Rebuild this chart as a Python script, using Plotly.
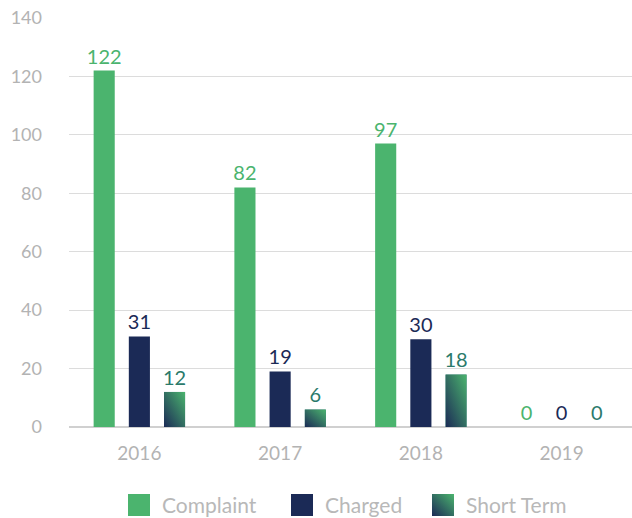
import base64
import plotly.graph_objects as go

years = ["2016", "2017", "2018", "2019"]
complaint = [122, 82, 97, 0]
charged = [31, 19, 30, 0]
short_term = [12, 6, 18, 0]
series_names = ["Complaint", "Charged", "Short Term"]

GREEN = "#4bb46e"
NAVY = "#1b2a56"
TEAL = "#2b7a6b"
FONT = "Lato"

W, H = 632, 518
ML, MR, MT, MB = 69, 0, 18, 91
PW, PH = W - ML - MR, H - MT - MB

x = list(range(len(years)))
bargap = 0.25
bargroupgap = 0.4
n_series = 3

fig = go.Figure()
for name, vals, col, tcol in [(series_names[0], complaint, GREEN, GREEN),
                              (series_names[1], charged, NAVY, NAVY),
                              (series_names[2], short_term, TEAL, TEAL)]:
    fig.add_trace(go.Bar(
        x=x, y=vals, name=name, marker=dict(color=col, line=dict(width=0)),
        text=[str(v) for v in vals], textposition="outside", constraintext="none",
        textfont=dict(color=tcol, size=20, family=FONT),
        cliponaxis=False, showlegend=False,
    ))

# gradient image for Short Term bars
svg = ("<svg xmlns='http://www.w3.org/2000/svg' width='20' height='20' viewBox='0 0 20 20' "
       "preserveAspectRatio='none'><defs><linearGradient id='g' x1='0' y1='1' x2='1' y2='0'>"
       f"<stop offset='0' stop-color='{NAVY}'/><stop offset='1' stop-color='{GREEN}'/>"
       "</linearGradient></defs><rect width='20' height='20' fill='url(#g)'/></svg>")
uri = "data:image/svg+xml;base64," + base64.b64encode(svg.encode()).decode()
slot = (1 - bargap) / n_series
barw = slot * (1 - bargroupgap)
images = []
for i, v in enumerate(short_term):
    if v > 0:
        images.append(dict(source=uri, xref="x", yref="y", x=i + slot - barw / 2, y=v,
                           sizex=barw, sizey=v, xanchor="left", yanchor="top",
                           sizing="stretch", layer="above"))

# custom legend (square swatches + text) below the plot
def px_x(p):
    return (p - ML) / PW

def px_y(p):
    return (H - MB - p) / PH

sw = 22
leg_cy = 505
swatch_left = [128, 291, 432]
shapes = []
annotations = []
for k, name in enumerate(series_names):
    x0 = swatch_left[k]
    if k < 2:
        shapes.append(dict(type="rect", xref="paper", yref="paper",
                           x0=px_x(x0), x1=px_x(x0 + sw),
                           y0=px_y(leg_cy + sw / 2), y1=px_y(leg_cy - sw / 2),
                           fillcolor=[GREEN, NAVY][k], line=dict(width=0)))
    else:
        images.append(dict(source=uri, xref="paper", yref="paper",
                           x=px_x(x0), y=px_y(leg_cy - sw / 2),
                           sizex=sw / PW, sizey=sw / PH, xanchor="left", yanchor="top",
                           sizing="stretch", layer="above"))
    annotations.append(dict(text=name, xref="paper", yref="paper",
                            x=px_x(x0 + sw + 10), y=px_y(leg_cy),
                            xanchor="left", yanchor="middle", showarrow=False,
                            font=dict(size=21, color="#b8b8b8", family=FONT)))

fig.update_layout(
    width=W, height=H,
    margin=dict(l=ML, r=MR, t=MT, b=MB, autoexpand=False),
    plot_bgcolor="white", paper_bgcolor="white",
    barmode="group", bargap=bargap, bargroupgap=bargroupgap,
    font=dict(family=FONT, color="#b3b3b3", size=18),
    images=images, shapes=shapes, annotations=annotations,
    showlegend=False,
    xaxis=dict(tickmode="array", tickvals=x, ticktext=years, range=[-0.5, 3.5],
               showgrid=False, zeroline=False, showline=False, ticks="",
               tickfont=dict(size=19, color="#b3b3b3"), ticklabelstandoff=13,
               automargin=False),
    yaxis=dict(range=[0, 140], dtick=20, showgrid=True, gridcolor="#dcdcdc", gridwidth=1,
               zeroline=True, zerolinecolor="#d0d0d0", zerolinewidth=2,
               showline=False, ticks="", ticklabelstandoff=26,
               tickfont=dict(size=18, color="#b3b3b3"), automargin=False),
)

fig.write_html("out.html")
